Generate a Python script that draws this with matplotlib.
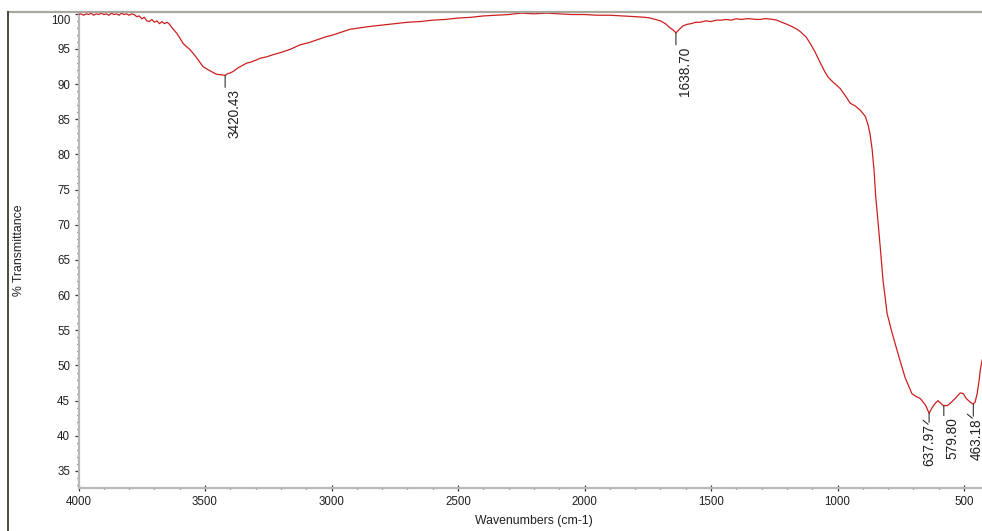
import matplotlib
matplotlib.use('Agg')
import matplotlib.pyplot as plt
from matplotlib.lines import Line2D
from matplotlib.ticker import MultipleLocator, FuncFormatter
from matplotlib.transforms import offset_copy

# ---------------- data ----------------
wavenumber = [4000, 3990, 3980, 3970, 3960, 3950, 3940, 3930, 3920, 3910, 3900, 3890,
              3880, 3870, 3860, 3850, 3840, 3830, 3820, 3810, 3800, 3790, 3780, 3770,
              3760, 3750, 3740, 3730, 3720, 3710, 3700, 3690, 3680, 3670, 3660, 3650,
              3640, 3630, 3620, 3611, 3600, 3587, 3575, 3559, 3545, 3532, 3520, 3508,
              3495, 3480, 3465, 3453, 3440, 3430, 3420, 3410, 3400, 3389, 3370, 3350,
              3335, 3322, 3300, 3280, 3255, 3230, 3210, 3192, 3160, 3124, 3090, 3057,
              3025, 2994, 2960, 2927, 2890, 2850, 2800, 2750, 2700, 2650, 2600, 2550,
              2500, 2450, 2400, 2350, 2300, 2250, 2200, 2150, 2100, 2050, 2000, 1950,
              1900, 1850, 1800, 1760, 1740, 1720, 1700, 1680, 1665, 1650, 1638, 1625,
              1610, 1595, 1580, 1560, 1543, 1520, 1500, 1480, 1460, 1440, 1420, 1400,
              1380, 1360, 1346, 1320, 1306, 1290, 1278, 1255, 1240, 1227, 1213, 1199,
              1175, 1160, 1148, 1136, 1124, 1108, 1089, 1069, 1049, 1037, 1018, 1005,
              990, 966, 950, 930, 910, 890, 879, 871, 863, 855, 849, 843,
              831, 820, 804, 784, 761, 733, 706, 690, 673, 666, 651, 638,
              626, 614, 603, 591, 582, 566, 555, 535, 515, 503, 491, 476,
              464, 456, 448, 440, 436, 428]
transmittance = [99.9, 100.0, 99.8, 100.0, 99.9, 100.1, 99.8, 100.0, 99.9, 100.1, 99.9, 100.0,
                 99.8, 100.1, 99.9, 100.0, 99.8, 100.1, 99.9, 100.0, 99.8, 100.0, 99.9, 99.6,
                 99.7, 99.3, 99.5, 99.0, 98.9, 99.2, 98.8, 99.0, 98.6, 98.9, 98.6, 98.8,
                 98.5, 98.0, 97.6, 97.2, 96.6, 95.8, 95.4, 94.9, 94.3, 93.7, 93.1, 92.5,
                 92.2, 91.9, 91.6, 91.4, 91.35, 91.3, 91.25, 91.5, 91.6, 91.8, 92.3, 92.7,
                 93.0, 93.1, 93.4, 93.7, 93.9, 94.2, 94.4, 94.6, 95.0, 95.6, 95.9, 96.3,
                 96.7, 97.0, 97.4, 97.8, 98.0, 98.2, 98.4, 98.6, 98.8, 98.9, 99.1, 99.2,
                 99.4, 99.5, 99.7, 99.8, 99.9, 100.1, 100.0, 100.1, 100.0, 99.9, 99.9, 99.8,
                 99.8, 99.7, 99.6, 99.5, 99.4, 99.2, 99.0, 98.6, 98.1, 97.7, 97.3, 97.8,
                 98.3, 98.5, 98.6, 98.8, 98.8, 99.0, 98.9, 99.1, 99.1, 99.2, 99.1, 99.3,
                 99.2, 99.3, 99.3, 99.2, 99.2, 99.3, 99.3, 99.2, 99.1, 98.9, 98.7, 98.5,
                 98.1, 97.8, 97.5, 97.1, 96.7, 95.8, 94.6, 93.1, 91.7, 91.0, 90.3, 89.9,
                 89.4, 88.2, 87.3, 86.9, 86.3, 85.4, 84.2, 82.8, 80.7, 77.5, 74.0, 71.7,
                 66.8, 62.1, 57.4, 54.6, 51.7, 48.3, 46.0, 45.6, 45.3, 45.0, 44.3, 43.2,
                 44.0, 44.6, 45.0, 44.6, 44.3, 44.3, 44.6, 45.3, 46.1, 46.0, 45.3, 44.8,
                 44.5, 44.8, 46.0, 47.9, 49.3, 50.8]

peak_wn = [3420.43, 1638.70, 637.97, 579.80, 463.18]
peak_T = [91.25, 97.3, 43.2, 44.3, 44.5]
peak_labels = ['3420.43', '1638.70', '637.97', '579.80', '463.18']

x_ticks = [4000, 3500, 3000, 2500, 2000, 1500, 1000, 500]
x_label = 'Wavenumbers (cm-1)'
y_label = '% Transmittance'

# ---------------- figure ----------------
W, H = 982, 531
plt.rcParams['font.family'] = ['Liberation Sans', 'DejaVu Sans']
fig = plt.figure(figsize=(W / 100, H / 100), dpi=100)
fig.patch.set_facecolor('white')

ax_l, ax_r, ax_t, ax_b = 78.5, 982, 12, 488
ax = fig.add_axes([ax_l / W, (H - ax_b) / H, (ax_r - ax_l) / W, (ax_b - ax_t) / H])
px_per_unit = 126.5 / 500
ax.set_xlim(4000, 4000 - (ax_r - ax_l) / px_per_unit)
ax.set_ylim(32.58, 100.26)

ax.plot(wavenumber, transmittance, color='#cc1f1f', lw=0.9, zorder=3)

for s in ['top', 'right']:
    ax.spines[s].set_visible(False)
for s in ['left', 'bottom']:
    ax.spines[s].set_color('#b8b8b8')
    ax.spines[s].set_linewidth(1.6)

ax.set_xticks(x_ticks)
ax.xaxis.set_minor_locator(MultipleLocator(100))
ax.yaxis.set_major_locator(MultipleLocator(5))
ax.yaxis.set_minor_locator(MultipleLocator(1))
ax.yaxis.set_major_formatter(FuncFormatter(lambda v, p: '' if abs(v - 100) < 1e-6 else f'{v:.0f}'))

tc = '#303030'
ax.tick_params(axis='y', which='major', direction='out', length=3, width=0.9, color=tc,
               labelsize=8.3, pad=3, labelcolor='#202020')
ax.tick_params(axis='y', which='minor', direction='out', length=1.6, width=0.9, color=tc)
ax.tick_params(axis='x', which='major', direction='inout', length=4, width=0.9, color=tc,
               labelsize=8.3, pad=3.5, labelcolor='#202020')
ax.tick_params(axis='x', which='minor', direction='inout', length=1.6, width=0.9, color=tc)

# the "100" label sits a little lower than its tick in the reference
ax.annotate('100', xy=(0, 100), xycoords=('axes fraction', 'data'), xytext=(-8.4, -7),
            textcoords='offset pixels', ha='right', va='center', fontsize=8.3, color='#202020')

# ---------------- peak labels ----------------
lc = '#303030'
tick_len = [12, 12, 9, 10, 12]
text_dx = [9, 9, 0, 9, 3.5]
for wn_p, t_p, lab, L, dx in zip(peak_wn, peak_T, peak_labels, tick_len, text_dx):
    ax.annotate('', xy=(wn_p, t_p), xytext=(0, -L), textcoords='offset pixels',
                arrowprops=dict(arrowstyle='-', color=lc, lw=0.8, shrinkA=0, shrinkB=0))
    if dx < 5:
        # small slanted leader "\" next to a displaced label
        start = offset_copy(ax.transData, fig=fig, x=-6, y=-L + 2, units='dots')
        ax.annotate('', xy=(wn_p, t_p), xycoords=start, xytext=(5, -4),
                    textcoords='offset pixels',
                    arrowprops=dict(arrowstyle='-', color=lc, lw=0.8, shrinkA=0, shrinkB=0),
                    annotation_clip=False)
    ax.annotate(lab, xy=(wn_p, t_p), xytext=(dx, -L - 2), textcoords='offset pixels',
                rotation=90, ha='center', va='top', fontsize=9.8, color='#202020')

# ---------------- axis titles & frame ----------------
fig.text(534 / W, 1 - 521 / H, x_label, ha='center', va='center', fontsize=8.8, color='#202020')
fig.text(19 / W, 1 - 250 / H, y_label, ha='center', va='center', rotation=90,
         fontsize=8.8, color='#202020')
fig.add_artist(Line2D([8 / W, 1], [1 - 12 / H, 1 - 12 / H], transform=fig.transFigure,
                      color='#a8a8a0', lw=1.6))
fig.add_artist(Line2D([8 / W, 8 / W], [0, 1 - 12 / H], transform=fig.transFigure,
                      color='#4a4a40', lw=1.4))

fig.savefig('out.png', dpi=100)
